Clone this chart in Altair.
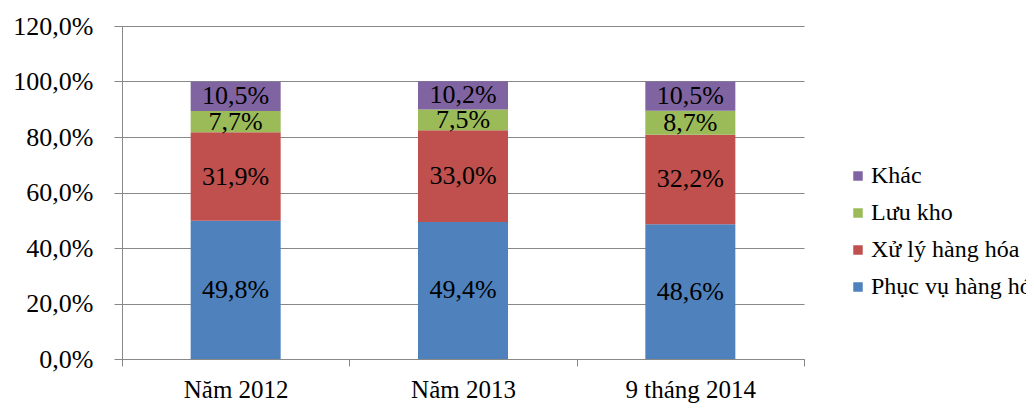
import altair as alt
import pandas as pd

categories = ["Năm 2012", "Năm 2013", "9 tháng 2014"]
series = ["Phục vụ hàng hóa", "Xử lý hàng hóa", "Lưu kho", "Khác"]
values = {
    "Phục vụ hàng hóa": [49.8, 49.4, 48.6],
    "Xử lý hàng hóa": [31.9, 33.0, 32.2],
    "Lưu kho": [7.7, 7.5, 8.7],
    "Khác": [10.5, 10.2, 10.5],
}
colors = ["#8064A2", "#9BBB59", "#C0504D", "#4F81BD"]
legend_order = ["Khác", "Lưu kho", "Xử lý hàng hóa", "Phục vụ hàng hóa"]

rows = []
for s_i, s in enumerate(series):
    for c_i, c in enumerate(categories):
        rows.append({"cat": c, "series": s, "value": values[s][c_i], "ord": s_i})
df = pd.DataFrame(rows)

FONT = "'Liberation Serif', 'Times New Roman', 'DejaVu Serif', serif"

base = alt.Chart(df).transform_stack(
    stack="value", groupby=["cat"], as_=["v0", "v1"], sort=[alt.SortField("ord", order="ascending")]
).transform_calculate(
    mid="(datum.v0 + datum.v1) / 2",
    lbl="replace(format(datum.value, '.1f'), '.', ',') + '%'",
)

xenc = alt.X(
    "cat:N",
    sort=categories,
    scale=alt.Scale(paddingInner=0, paddingOuter=0),
    axis=alt.Axis(
        title=None, labelAngle=0, tickBand="extent", tickSize=7, labelPadding=11,
        labelFont=FONT, labelFontSize=25, labelColor="black",
        domainColor="#888888", tickColor="#888888", grid=False,
    ),
)

bars = base.mark_bar(size=90).encode(
    x=xenc,
    y=alt.Y(
        "v0:Q",
        scale=alt.Scale(domain=[0, 120], nice=False),
        axis=alt.Axis(
            title=None, values=[0, 20, 40, 60, 80, 100, 120],
            labelExpr="replace(format(datum.value, '.1f'), '.', ',') + '%'",
            labelFont=FONT, labelFontSize=26, labelColor="black", labelPadding=21,
            tickSize=8, domainColor="#888888", tickColor="#888888",
            gridColor="#888888", gridOpacity=1,
        ),
    ),
    y2="v1:Q",
    color=alt.Color(
        "series:N",
        scale=alt.Scale(domain=legend_order, range=colors),
        legend=alt.Legend(
            title=None, orient="none", legendX=724, legendY=138,
            symbolType="square", symbolSize=90, symbolStrokeWidth=0,
            labelFont=FONT, labelFontSize=24, labelColor="black",
            labelOffset=1, rowPadding=13, padding=0, labelLimit=400,
        ),
    ),
)

texts = base.mark_text(font=FONT, fontSize=26, color="black").encode(
    x=alt.X("cat:N", sort=categories),
    y=alt.Y("mid:Q"),
    text="lbl:N",
)

chart = alt.layer(bars, texts).properties(
    width=682,
    height=333,
    padding={"left": 114, "top": 18, "right": 222, "bottom": 44},
    autosize=alt.AutoSizeParams(type="none"),
).configure_view(stroke=None)

chart.save("out.html", embed_options={"renderer": "svg", "actions": False})
